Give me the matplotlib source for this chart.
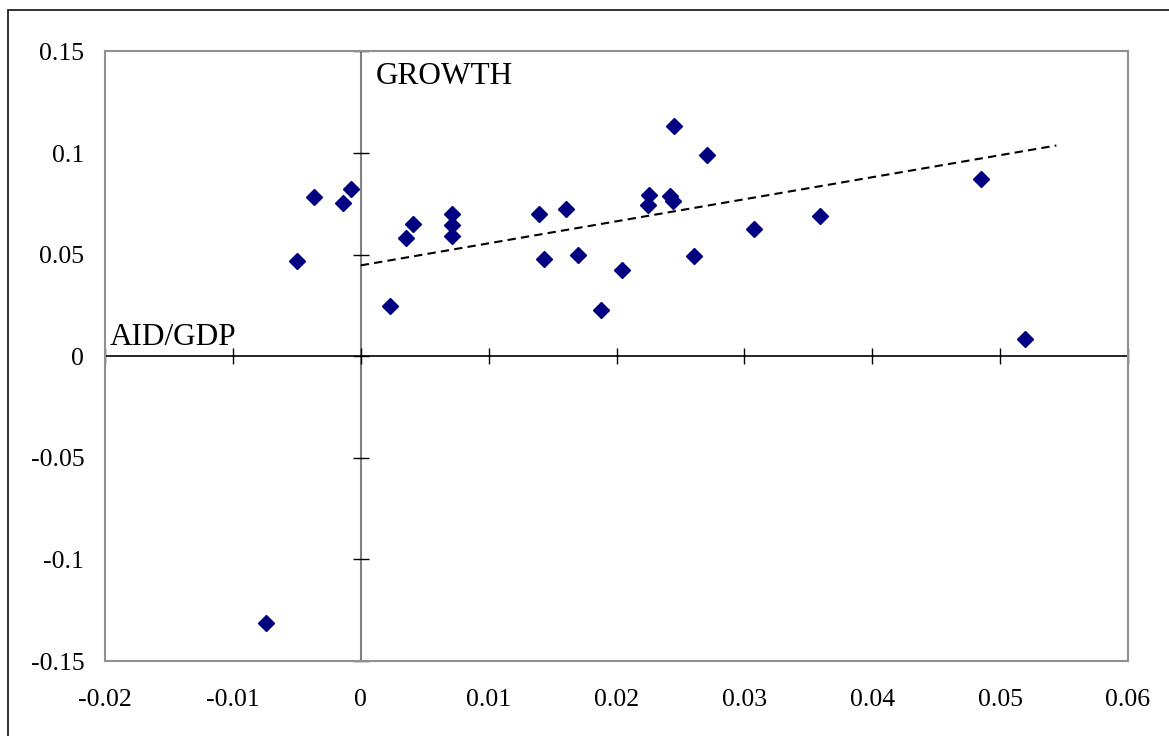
import matplotlib
matplotlib.use("Agg")
import matplotlib.pyplot as plt
from matplotlib.patches import Rectangle

# Data
aid_gdp = [-0.00365, -0.00138, -0.00078, -0.0050, 0.00229, 0.00354, 0.00412,
           0.00714, 0.00714, 0.00714, 0.01392, 0.01606, 0.01436, 0.01702,
           0.02041, 0.01879, 0.02255, 0.02244, 0.02419, 0.02445, 0.02453,
           0.02711, 0.02609, 0.03076, 0.03592, 0.04851, 0.05198, -0.00743]
growth = [0.0783, 0.0754, 0.0823, 0.0470, 0.0249, 0.0582, 0.0649,
          0.0700, 0.0647, 0.0590, 0.0698, 0.0726, 0.0478, 0.0500,
          0.0422, 0.0225, 0.0795, 0.0742, 0.0787, 0.0762, 0.1131,
          0.0990, 0.0493, 0.0624, 0.0690, 0.0874, 0.0085, -0.1315]

trend_x = [0.0, 0.0544]
trend_y = [0.0447, 0.1037]

x_ticks = [-0.02, -0.01, 0, 0.01, 0.02, 0.03, 0.04, 0.05, 0.06]
x_labels = ["-0.02", "-0.01", "0", "0.01", "0.02", "0.03", "0.04", "0.05", "0.06"]
y_ticks = [-0.15, -0.1, -0.05, 0, 0.05, 0.1, 0.15]
y_labels = ["-0.15", "-0.1", "-0.05", "0", "0.05", "0.1", "0.15"]

plt.rcParams['font.family'] = ['Liberation Serif', 'DejaVu Serif']

fig = plt.figure(figsize=(11.69, 7.36), dpi=100)
fig.patch.set_facecolor('white')

# outer frame (right and bottom edges lie outside the image)
fig.patches.append(Rectangle((8 / 1169, -0.05), 1.2, (736 - 10) / 736 + 0.05,
                             transform=fig.transFigure, fill=False,
                             edgecolor='#222222', linewidth=1.3))

ax = fig.add_axes([105 / 1169, 75 / 736, 1023 / 1169, 609.6 / 736])
ax.set_xlim(-0.02, 0.06)
ax.set_ylim(-0.15, 0.15)

for s in ax.spines.values():
    s.set_color('#909090')
    s.set_linewidth(1.5)

ax.set_xticks(x_ticks)
ax.set_xticklabels(x_labels)
ax.set_yticks(y_ticks)
ax.set_yticklabels(y_labels)
ax.tick_params(axis='both', length=0, labelsize=18.5)
ax.tick_params(axis='x', pad=20)
ax.tick_params(axis='y', pad=15)

# zero axes
ax.axvline(0, color='#808080', linewidth=1.5, zorder=1)
ax.axhline(0, color='black', linewidth=1.2, zorder=1)
ax.plot(x_ticks, [0] * len(x_ticks), linestyle='none', marker='|',
        markersize=11.5, color='black', markeredgewidth=1.0, clip_on=False, zorder=2)
ax.plot([0] * len(y_ticks), y_ticks, linestyle='none', marker='_',
        markersize=11.5, color='black', markeredgewidth=1.0, clip_on=False, zorder=2)

# trend line
ax.plot(trend_x, trend_y, linestyle=(0, (4, 2.5)), color='black', linewidth=1.5, zorder=3)

# points
ax.plot(aid_gdp, growth, linestyle='none', marker='D', markersize=8.5,
        color='#000080', markeredgecolor='#000080', zorder=4)

ax.text(0.0012, 0.145, "GROWTH", fontsize=22.5, ha='left', va='top')
ax.text(-0.0196, 0.0057, "AID/GDP", fontsize=22.5, ha='left', va='baseline')

fig.savefig("out.png", dpi=100)
